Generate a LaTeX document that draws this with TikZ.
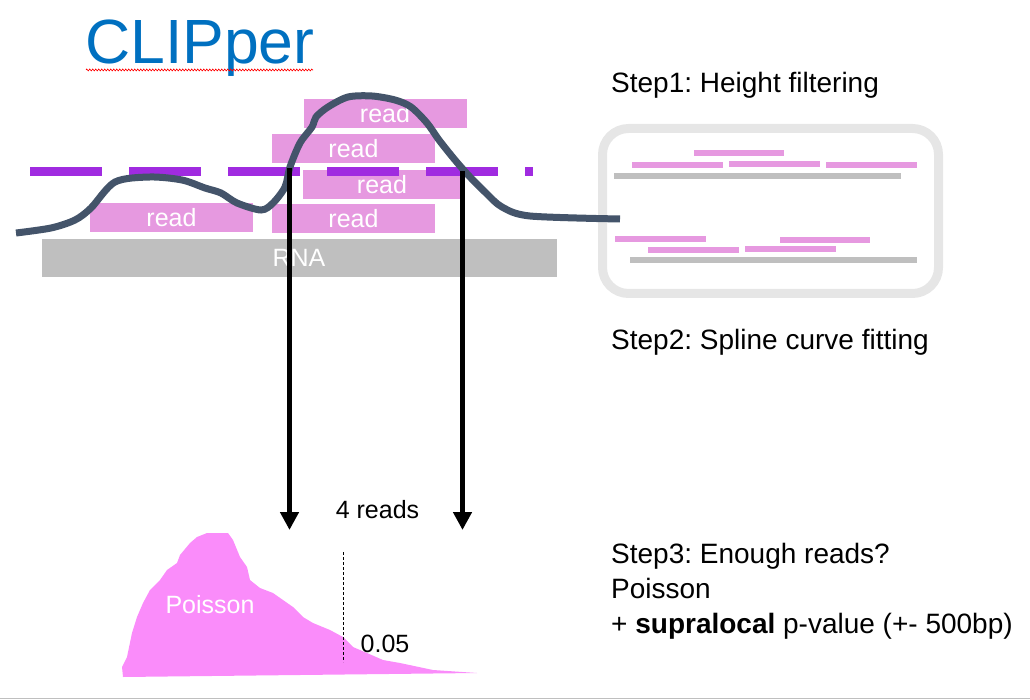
\documentclass[tikz,border=0pt]{standalone}
\usepackage{fontspec}
\setmainfont{Liberation Sans}
\usetikzlibrary{arrows.meta,decorations.pathmorphing}
\definecolor{readpink}{HTML}{E699E0}
\definecolor{poispink}{HTML}{FA8CFA}
\definecolor{cutpurple}{HTML}{A02BE0}
\definecolor{curveslate}{HTML}{44546A}
\definecolor{rnagray}{HTML}{BFBFBF}
\definecolor{panelgray}{HTML}{E6E6E6}
\definecolor{titleblue}{HTML}{0070C0}
\frenchspacing
\begin{document}
\begin{tikzpicture}[x=1pt,y=-1pt,
  readbox/.style={rectangle, fill=readpink, text=white, minimum width=163pt, minimum height=29pt, inner sep=0pt, font=\fontsize{25}{30}\selectfont},
  txt/.style={inner sep=0pt, anchor=base west, font=\fontsize{28}{33}\selectfont},
  small/.style={inner sep=0pt, anchor=base, font=\fontsize{25}{30}\selectfont},
  pinkbar/.style={readpink, line width=5.5pt},
  graybar/.style={rnagray, line width=5.5pt},
  downarrow/.style={line width=4.5pt, -{Triangle[width=18pt,length=18pt]}}]
\useasboundingbox (0,0) rectangle (1030,700);
% title
\node[inner sep=0pt, anchor=base west, text=titleblue, font=\fontsize{62.5}{70}\selectfont] (title) at (85,64) {CLIPper};
\draw[red, line width=0.6pt, decorate, decoration={zigzag, amplitude=1pt, segment length=3pt}] (86,70) -- (313,70);
% reads
\node[readbox] (r1) at (385,113.5) {read};
\node[readbox] (r2) at (353.5,149) {read};
\node[readbox, minimum width=158pt] (r3) at (382,184.5) {read};
\node[readbox] (r4) at (353.5,219) {read};
\node[readbox] (r5) at (171.5,217.5) {read};
% RNA
\node[rectangle, fill=rnagray, text=white, minimum width=515pt, minimum height=38pt, inner sep=0pt, font=\fontsize{25}{30}\selectfont] (rna) at (299,258) {RNA};
% threshold line
\draw[cutpurple, line width=9pt, dash pattern=on 72pt off 27pt] (30,172) -- (533,172);
% panel
\node[draw=panelgray, line width=9pt, rounded corners=26pt, minimum width=336pt, minimum height=165pt, inner sep=0pt] (panel) at (770.5,211) {};
\draw[pinkbar] (694,153) -- (784,153);
\draw[pinkbar] (632,165) -- (723,165);
\draw[pinkbar] (729,164) -- (820,164);
\draw[pinkbar] (826,165) -- (917,165);
\draw[graybar] (614,176) -- (901,176);
\draw[pinkbar] (615,239) -- (706,239);
\draw[pinkbar] (780,240) -- (870,240);
\draw[pinkbar] (648,250) -- (739,250);
\draw[pinkbar] (745,249) -- (836,249);
\draw[graybar] (630,260) -- (917,260);
% coverage curve
\draw[curveslate, line width=7pt] plot[smooth, tension=0.5] coordinates {(16,233) (51,228) (75,220) (91,208) (115,182) (150,177) (182,180) (205,188) (221,193) (237,203) (261,210) (273,203) (285,187) (290,167) (300,143) (312,127) (316,117) (328,107) (348,97) (372,96) (395,100) (411,107) (427,123) (439,140) (455,160) (470,177) (486,193) (502,207) (530,216) (620,219)};
% arrows
\coordinate (a1s) at (289.5,168);
\coordinate (a1e) at (289.5,530);
\coordinate (a2s) at (462.5,171);
\coordinate (a2e) at (462.5,530);
\draw[downarrow] (a1s) -- (a1e);
\draw[downarrow] (a2s) -- (a2e);
\node[small] (four) at (377.5,518) {4 reads};
% poisson shape
\fill[poispink] (123,677) -- (122,667) -- (127,657) -- (132,633) -- (137,617) -- (143,603) -- (150,590) -- (160,580) -- (167,570) -- (177,563) -- (180,555) -- (190,543) -- (197,537) -- (207,533) -- (228,533) -- (233,540) -- (240,557) -- (247,567) -- (250,580) -- (260,588) -- (273,593) -- (283,600) -- (293,607) -- (303,617) -- (313,623) -- (330,630) -- (343,637) -- (353,647) -- (367,653) -- (383,660) -- (400,663) -- (433,670) -- (477,673) -- cycle;
\node[small, text=white] (pois) at (210,613) {Poisson};
\coordinate (cutt) at (343,552);
\coordinate (cutb) at (343,662);
\draw[black, line width=1pt, dash pattern=on 3pt off 2pt] (cutt) -- (cutb);
\node[small] (pval) at (385,652) {0.05};
% steps
\node[txt] (s1) at (611,93) {Step1: Height filtering};
\node[txt] (s2) at (611,349) {Step2: Spline curve fitting};
\node[txt] (s3) at (611,563) {Step3: Enough reads?};
\node[txt] (s3b) at (611,598) {Poisson};
\node[txt] (s3c) at (611,633) {+ \textbf{supralocal} p-value (+- 500bp)};
% bottom rule
\coordinate (bl) at (0,698.5);
\coordinate (br) at (1030,698.5);
\draw[rnagray, line width=1.5pt] (bl) -- (br);
\end{tikzpicture}
\end{document}
